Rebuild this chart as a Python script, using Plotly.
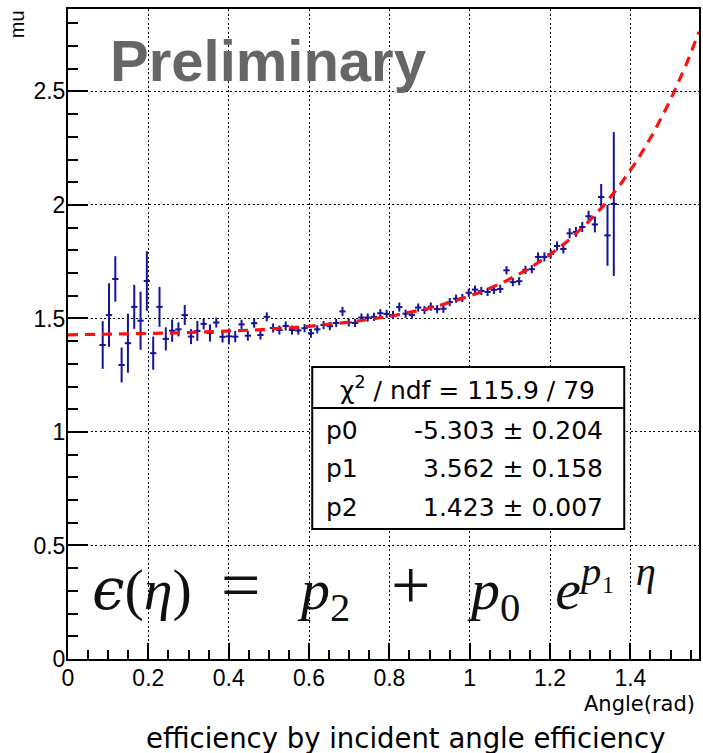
import plotly.graph_objects as go
import numpy as np

# ---------------- data ----------------
angle = [0.0864, 0.1021, 0.1178, 0.1335, 0.1492, 0.1649, 0.1806, 0.1963, 0.2121, 0.2278,
         0.2435, 0.2592, 0.2749, 0.2906, 0.3063, 0.3220, 0.3377, 0.3534, 0.3691, 0.3848,
         0.4006, 0.4163, 0.4320, 0.4477, 0.4634, 0.4791, 0.4948, 0.5105, 0.5262, 0.5419,
         0.5576, 0.5733, 0.5890, 0.6048, 0.6205, 0.6362, 0.6519, 0.6676, 0.6833, 0.6990,
         0.7147, 0.7304, 0.7461, 0.7618, 0.7775, 0.7933, 0.8090, 0.8247, 0.8404, 0.8561,
         0.8718, 0.8875, 0.9032, 0.9189, 0.9346, 0.9503, 0.9660, 0.9817, 0.9975, 1.0132,
         1.0289, 1.0446, 1.0603, 1.0760, 1.0917, 1.1074, 1.1231, 1.1388, 1.1545, 1.1702,
         1.1860, 1.2017, 1.2174, 1.2331, 1.2488, 1.2645, 1.2802, 1.2959, 1.3116, 1.3273,
         1.3430, 1.3587]

mu = [1.383, 1.515, 1.674, 1.295, 1.391, 1.551, 1.490, 1.665, 1.347, 1.551,
      1.410, 1.446, 1.452, 1.515, 1.420, 1.445, 1.476, 1.436, 1.482, 1.419,
      1.421, 1.420, 1.474, 1.424, 1.479, 1.427, 1.507, 1.458, 1.449, 1.467,
      1.449, 1.447, 1.457, 1.435, 1.452, 1.471, 1.466, 1.480, 1.531, 1.482,
      1.480, 1.504, 1.504, 1.507, 1.523, 1.520, 1.515, 1.550, 1.521, 1.515,
      1.548, 1.537, 1.552, 1.541, 1.543, 1.572, 1.587, 1.590, 1.613, 1.627,
      1.621, 1.617, 1.626, 1.630, 1.712, 1.660, 1.664, 1.714, 1.717, 1.771,
      1.771, 1.784, 1.819, 1.806, 1.875, 1.881, 1.903, 1.950, 1.914, 2.035,
      1.866, 2.004]

mu_err = [0.105, 0.140, 0.100, 0.077, 0.130, 0.097, 0.128, 0.131, 0.073, 0.088,
          0.051, 0.049, 0.031, 0.044, 0.033, 0.044, 0.024, 0.038, 0.022, 0.025,
          0.035, 0.025, 0.020, 0.022, 0.020, 0.020, 0.020, 0.020, 0.020, 0.020,
          0.020, 0.018, 0.018, 0.020, 0.018, 0.018, 0.018, 0.018, 0.020, 0.018,
          0.018, 0.018, 0.018, 0.018, 0.018, 0.018, 0.018, 0.020, 0.018, 0.018,
          0.018, 0.018, 0.018, 0.018, 0.018, 0.018, 0.018, 0.018, 0.018, 0.018,
          0.018, 0.018, 0.018, 0.018, 0.018, 0.018, 0.018, 0.018, 0.018, 0.020,
          0.020, 0.020, 0.020, 0.020, 0.022, 0.022, 0.022, 0.024, 0.035, 0.057,
          0.134, 0.317]

BIN_WIDTH = 0.015708          # histogram bin width (pi/200)
X_RANGE = [0.0, 1.5708]
Y_RANGE = [0.0, 2.863]

# fit parameters (from the stats box): mu = p2 + exp(p0 + p1*angle)
p0, p0_err = -5.303, 0.204
p1, p1_err = 3.562, 0.158
p2, p2_err = 1.423, 0.007
chi2, ndf = 115.9, 79

x_ticks = [0, 0.2, 0.4, 0.6, 0.8, 1.0, 1.2, 1.4]
x_tick_text = ["0", "0.2", "0.4", "0.6", "0.8", "1", "1.2", "1.4"]
y_ticks = [0, 0.5, 1.0, 1.5, 2.0, 2.5]
y_tick_text = ["0", "0.5", "1", "1.5", "2", "2.5"]

# ---------------- layout geometry ----------------
W, H = 703, 753
L, R, T, B = 68, 2, 9, 94
PW, PH = W - L - R, H - T - B


def xp(px):
    return (px - L) / PW


def yp(py):
    return (H - B - py) / PH


NAVY = "rgb(20,20,155)"
FONT = "Liberation Sans, Arial, sans-serif"
WIDE = "DejaVu Sans, sans-serif"

fig = go.Figure()

fig.add_trace(go.Scatter(
    x=angle, y=mu, mode="markers",
    marker=dict(size=1, color=NAVY),
    error_y=dict(type="data", array=mu_err, width=0, thickness=2, color=NAVY),
    error_x=dict(type="constant", value=BIN_WIDTH / 2, width=0, thickness=2, color=NAVY),
    showlegend=False, hoverinfo="skip",
))

xf = np.linspace(X_RANGE[0], X_RANGE[1], 300)
yf = p2 + np.exp(p0 + p1 * xf)
fig.add_trace(go.Scatter(
    x=xf, y=yf, mode="lines",
    line=dict(color="#ff1010", width=3.2, dash="10px,7px"),
    showlegend=False, hoverinfo="skip",
))

axis_common = dict(
    showline=True, linecolor="black", linewidth=2, mirror=True,
    ticks="inside", tickcolor="black", tickwidth=1.5,
    showgrid=True, gridcolor="black", gridwidth=1.2, griddash="2px,2.5px",
    zeroline=False,
    tickfont=dict(family=FONT, size=23, color="black"),
)

fig.update_xaxes(
    range=X_RANGE, tickmode="array", tickvals=x_ticks, ticktext=x_tick_text,
    ticklen=16, ticklabelstandoff=-3,
    minor=dict(dtick=0.05, tick0=0, ticks="inside", ticklen=9, tickwidth=1.5,
               tickcolor="black", showgrid=False),
    **axis_common,
)
fig.update_yaxes(
    range=Y_RANGE, tickmode="array", tickvals=y_ticks, ticktext=y_tick_text,
    ticklen=20, ticklabelstandoff=-4,
    minor=dict(dtick=0.1, tick0=0, ticks="inside", ticklen=10, tickwidth=1.5,
               tickcolor="black", showgrid=False),
    **axis_common,
)

shapes = [
    dict(type="rect", xref="paper", yref="paper",
         x0=xp(313), x1=xp(626), y0=yp(529), y1=yp(367),
         fillcolor="white", line=dict(color="black", width=2), layer="above"),
    dict(type="line", xref="paper", yref="paper",
         x0=xp(313), x1=xp(626), y0=yp(408), y1=yp(408),
         line=dict(color="black", width=2), layer="above"),
]

ann = []
# Preliminary
ann.append(dict(text="<b>Preliminary</b>", xref="paper", yref="paper",
                x=xp(108), y=yp(60), xanchor="left", yanchor="middle",
                showarrow=False, font=dict(family=FONT, size=58, color="#666666")))
# stats box
ann.append(dict(text=f"χ<sup>2</sup> / ndf = {chi2} / {ndf}", xref="paper", yref="paper",
                x=xp(469), y=yp(388), xanchor="center", yanchor="middle",
                showarrow=False, font=dict(family=WIDE, size=25, color="black")))
for name, val, err, ypix in [("p0", p0, p0_err, 430), ("p1", p1, p1_err, 469), ("p2", p2, p2_err, 507)]:
    ann.append(dict(text=name, xref="paper", yref="paper",
                    x=xp(325), y=yp(ypix), xanchor="left", yanchor="middle",
                    showarrow=False, font=dict(family=WIDE, size=25, color="black")))
    ann.append(dict(text=f"{val:.3f} ± {err:.3f}", xref="paper", yref="paper",
                    x=xp(607), y=yp(ypix), xanchor="right", yanchor="middle",
                    showarrow=False, font=dict(family=WIDE, size=25, color="black")))
# formula
en, th = "\u2002", "\u2009"
eps = "<span style='font-family:DejaVu Serif'><i>ϵ</i></span>"
big = "<span style='font-size:70px'>{}</span>"
formula = (f"{eps}(<i>η</i>){en}{big.format('=')}{en}{th}<i>p</i><sub>2</sub>{en}{th}"
           f"{big.format('+')}{en}{th}<i>p</i><sub>0</sub>{th}{th}{th}<i>e</i>"
           f"<sup><i>p</i>₁{en}<i>η</i></sup>")
ann.append(dict(text=formula, xref="paper", yref="paper",
                x=xp(90), y=yp(588), xanchor="left", yanchor="middle",
                showarrow=False, font=dict(family="Liberation Serif, serif", size=58, color="#111111")))
# axis titles
ann.append(dict(text="mu", xref="paper", yref="paper",
                x=xp(17), y=yp(8), xanchor="center", yanchor="top", textangle=-90,
                showarrow=False, font=dict(family=FONT, size=20, color="black")))
ann.append(dict(text="Angle(rad)", xref="paper", yref="paper",
                x=xp(699), y=yp(704), xanchor="right", yanchor="middle",
                showarrow=False, font=dict(family=WIDE, size=21, color="black")))
ann.append(dict(text="efficiency by incident angle efficiency", xref="paper", yref="paper",
                x=xp(407), y=yp(738), xanchor="center", yanchor="middle",
                showarrow=False, font=dict(family=WIDE, size=27.5, color="black")))

fig.update_layout(
    width=W, height=H,
    margin=dict(l=L, r=R, t=T, b=B),
    paper_bgcolor="white", plot_bgcolor="white",
    shapes=shapes, annotations=ann, showlegend=False,
)

fig.write_html("out.html")
